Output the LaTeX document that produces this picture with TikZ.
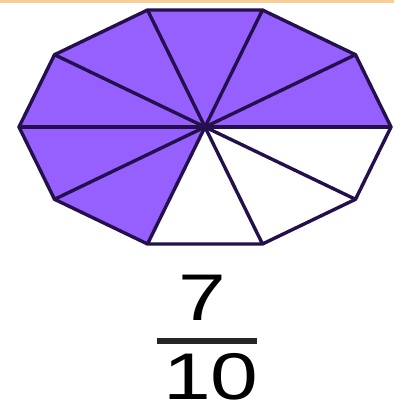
\documentclass[tikz,border=0pt]{standalone}
\usepackage{fontspec}
\setmainfont{Liberation Sans}
\usepackage{tikz}
\usetikzlibrary{calc}

\definecolor{slicefill}{RGB}{150,96,255}
\definecolor{sliceline}{RGB}{36,16,76}
\definecolor{topstrip}{RGB}{246,206,150}

\begin{document}
\begin{tikzpicture}[
    x=1pt, y=-1pt,
    slice/.style={fill=slicefill},
    edge/.style={draw=sliceline, line width=3.4pt, line join=round},
    digit/.style={font=\fontsize{66}{66}\selectfont, inner sep=0pt},
    bar/.style={line width=6pt, draw=black!85}
]
\useasboundingbox (0,0) rectangle (394,409);
\fill[topstrip] (0,0) rectangle (394,3);

% ── Decagon ──
\coordinate (c) at (205,127);
\foreach \i in {0,...,10}
    \coordinate (v\i) at ($(c)+({186*cos(36*\i)},{-123*sin(36*\i)})$);

% shaded sectors (7 of 10)
\foreach \i [evaluate=\i as \j using int(\i+1)] in {0,...,6}
    \fill[slice] (c) -- (v\i) -- (v\j) -- cycle;

% spokes and outline
\foreach \i in {0,...,9}
    \draw[edge] (c) -- (v\i);
\draw[edge] (v0) -- (v1) -- (v2) -- (v3) -- (v4) -- (v5) -- (v6) -- (v7) -- (v8) -- (v9) -- cycle;

% ── Fraction ──
\node[digit] (num) at (202,298) {\scalebox{1.3}[1]{7}};
\coordinate (barl) at (157,341);
\coordinate (barr) at (257,341);
\draw[bar] (barl) -- (barr);
\node[digit] (den) at (211,377) {\scalebox{1.3}[1]{10}};

\end{tikzpicture}
\end{document}
